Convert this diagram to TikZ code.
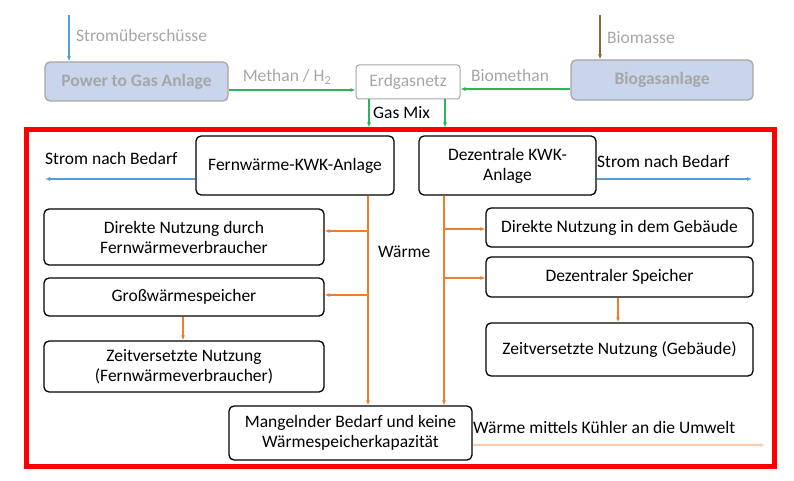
\documentclass[tikz,border=0pt]{standalone}
\usepackage{fontspec}
\setmainfont{Carlito}
\usepackage{tikz}
\usetikzlibrary{arrows.meta,positioning}

\definecolor{grautext}{HTML}{A6A6A6}
\definecolor{hellblau}{HTML}{C8D5EA}
\definecolor{gruen}{HTML}{2DB35A}
\definecolor{stromblau}{HTML}{5B9BD5}
\definecolor{waerme}{HTML}{ED7D31}
\definecolor{kuehl}{HTML}{F8CBAD}
\definecolor{oliv}{HTML}{7F6A3C}

\newcommand{\schrift}{\fontsize{17.5}{20}\selectfont}

\tikzset{
  box/.style={draw, line width=1.3pt, rounded corners=5pt, align=center, fill=white},
  quelle/.style={draw=grautext, line width=1.3pt, rounded corners=5pt, fill=hellblau,
    text=grautext, font=\schrift\bfseries},
  netz/.style={draw=grautext, line width=1pt, rounded corners=3pt, text=grautext},
  lbl/.style={inner sep=0pt, anchor=west},
  tip/.style={-{Latex[length=5pt,width=4pt]}},
  gas/.style={tip, draw=gruen, line width=1.3pt},
  strom/.style={tip, draw=stromblau, line width=1.1pt},
  warm/.style={tip, draw=waerme, line width=1.3pt},
}

\begin{document}
\begin{tikzpicture}[x=1pt, y=-1pt, font=\schrift]
    \useasboundingbox (0,0) rectangle (794,481);

    % Red frame around the heat use part
    \node[draw=red, line width=5pt, minimum width=748pt, minimum height=336pt, inner sep=0pt] (rahmen) at (400,298) {};

    % Gas supply
    \node[quelle, minimum width=183pt, minimum height=39pt] (ptg) at (136.5,81.5) {Power to Gas Anlage};
    \node[netz, minimum width=104pt, minimum height=34pt] (eg) at (408,82) {Erdgasnetz};
    \node[quelle, minimum width=182pt, minimum height=40pt] (bg) at (662,80) {Biogasanlage};

    \coordinate (su) at (69,15);
    \coordinate (bm) at (600,15);
    \draw[strom] (su) -- (su |- ptg.north);
    \draw[tip, draw=oliv, line width=1.1pt] (bm) -- (bm |- bg.north);
    \node[lbl, text=grautext] (sutext) at (76,35) {Stromüberschüsse};
    \node[lbl, text=grautext] (bmtext) at (607,38) {Biomasse};

    \draw[gas] ([yshift=-8.5pt]ptg.east) -- ([yshift=-8.5pt]ptg.east -| eg.west);
    \draw[gas] ([yshift=-9pt]bg.west) -- ([yshift=-9pt]bg.west -| eg.east);
    \node[text=grautext] (mh) at (287,77) {Methan / H\textsubscript{2}};
    \node[text=grautext] (bmeth) at (510,75) {Biomethan};

    \draw[gas] ([xshift=-39pt]eg.south) -- ([xshift=-39pt]eg.south |- rahmen.north);
    \draw[gas] ([xshift=37pt]eg.south) -- ([xshift=37pt]eg.south |- rahmen.north);
    \node[lbl] (gm) at (373,113) {Gas Mix};

    % KWK plants
    \node[box, minimum width=198pt, minimum height=59pt] (fw) at (295,165.5) {Fernwärme-KWK-Anlage};
    \node[box, minimum width=177pt, minimum height=59pt] (dz) at (507.5,165.5) {Dezentrale KWK-\\Anlage};

    % Electricity to demand
    \coordinate (sl) at (45,179);
    \coordinate (sr) at (752,179);
    \draw[strom] ([yshift=-13.5pt]fw.west) -- (sl);
    \draw[strom] ([yshift=-13.5pt]dz.east) -- (sr);
    \node[lbl] (sltext) at (45,158) {Strom nach Bedarf};
    \node[lbl] (srtext) at (597,161) {Strom nach Bedarf};

    % District heating side
    \node[box, minimum width=280pt, minimum height=56pt] (dnl) at (184,237) {Direkte Nutzung durch\\Fernwärmeverbraucher};
    \node[box, minimum width=280pt, minimum height=38pt] (gw) at (184,297) {Großwärmespeicher};
    \node[box, minimum width=280pt, minimum height=51pt] (znl) at (184,366.5) {Zeitversetzte Nutzung\\(Fernwärmeverbraucher)};

    % Decentral side
    \node[box, minimum width=267pt, minimum height=39pt] (dnr) at (619.5,227.5) {Direkte Nutzung in dem Gebäude};
    \node[box, minimum width=267pt, minimum height=40pt] (ds) at (619.5,277) {Dezentraler Speicher};
    \node[box, minimum width=267pt, minimum height=53pt] (znr) at (619.5,349.5) {Zeitversetzte Nutzung (Gebäude)};

    % Surplus heat
    \node[box, minimum width=243pt, minimum height=54pt] (mb) at (350.5,433) {Mangelnder Bedarf und keine\\Wärmespeicherkapazität};

    % Heat flows
    \coordinate (fwl) at ([xshift=73pt]fw.south);
    \coordinate (dzl) at ([xshift=-63.5pt]dz.south);
    \draw[warm] (fwl) -- (fwl |- mb.north);
    \draw[warm] (dzl) -- (dzl |- mb.north);
    \draw[warm] (fwl |- dnl.east) ++(0,-6) -- ([yshift=6pt]dnl.east);
    \draw[warm] (fwl |- gw.east) ++(0,-2) -- ([yshift=2pt]gw.east);
    \draw[warm] (dzl |- dnr.west) ++(0,1.5) -- ([yshift=-1.5pt]dnr.west);
    \draw[warm] (dzl |- ds.west) ++(0,1) -- ([yshift=-1pt]ds.west);
    \draw[warm] ([xshift=-1pt]gw.south) -- ([xshift=-1pt]znl.north);
    \draw[warm] ([xshift=-1.5pt]ds.south) -- ([xshift=-1.5pt]znr.north);
    \node[lbl] (wtext) at (378,252) {Wärme};

    % Heat to the environment
    \coordinate (um) at (765,445);
    \draw[tip, draw=kuehl, line width=1.3pt] ([yshift=-12pt]mb.east) -- (um);
    \node[lbl] (kt) at (473,427) {Wärme mittels Kühler an die Umwelt};
\end{tikzpicture}
\end{document}
